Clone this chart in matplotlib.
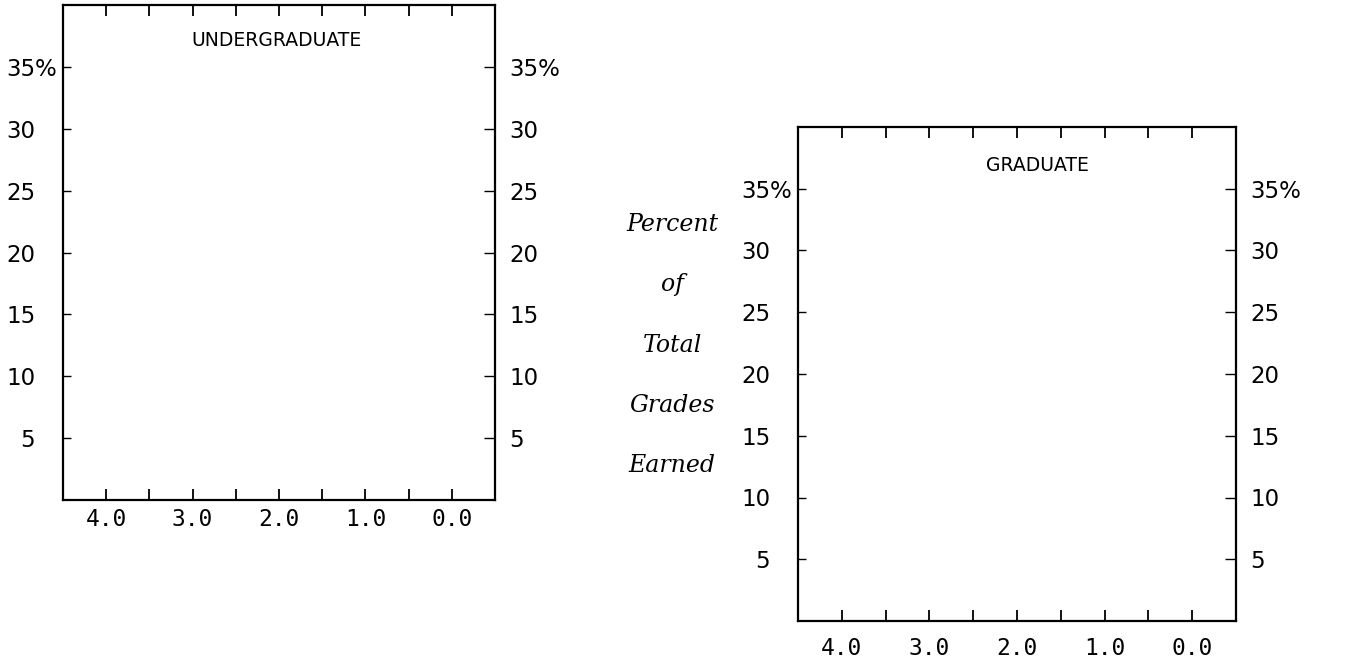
import matplotlib
matplotlib.use("Agg")
import matplotlib.pyplot as plt

# Data (tick categories)
grade_ticks = [4.0, 3.5, 3.0, 2.5, 2.0, 1.5, 1.0, 0.5, 0.0]
grade_labels = ["4.0", "", "3.0", "", "2.0", "", "1.0", "", "0.0"]
pct_ticks = [5, 10, 15, 20, 25, 30, 35]
pct_left_labels = ["5", "10", "15", "20", "25", "30", "35"]
pct_right_labels = ["5", "10", "15", "20", "25", "30", "35%"]
panel_titles = ["UNDERGRADUATE", "GRADUATE"]
ylabel_lines = ["Percent", "of", "Total", "Grades", "Earned"]

fig = plt.figure(figsize=(13.6, 6.62), dpi=100)

positions = [
    [63 / 1360, 1 - 500 / 662, (495 - 63) / 1360, 495 / 662],
    [798 / 1360, 1 - 621 / 662, (1236 - 798) / 1360, 494 / 662],
]
title_xy = [(0.495, 0.929), (0.546, 0.923)]
xpads = [6.0, 11.5]
FS = 16.5

for pos, title, txy, xpad in zip(positions, panel_titles, title_xy, xpads):
    ax = fig.add_axes(pos)
    ax.set_xlim(4.5, -0.5)
    ax.set_ylim(0, 40)
    for s in ax.spines.values():
        s.set_linewidth(1.6)
        s.set_color("black")
    ax.set_xticks(grade_ticks)
    ax.set_xticklabels(grade_labels, family="DejaVu Sans Mono", fontsize=FS)
    ax.tick_params(axis="x", direction="in", length=8, width=1.3, top=True,
                   bottom=True, pad=xpad)
    ax.set_yticks(pct_ticks)
    ax.set_yticklabels(pct_left_labels, family="DejaVu Sans", fontsize=FS)
    ax.tick_params(axis="y", direction="in", length=6, width=1.0, left=True,
                   right=True, pad=20)
    # right side labels
    ax2 = ax.twinx()
    ax2.set_ylim(ax.get_ylim())
    ax2.set_yticks(pct_ticks)
    ax2.set_yticklabels(pct_right_labels, family="DejaVu Sans", fontsize=FS)
    ax2.tick_params(axis="y", direction="in", length=8, width=1.0, pad=10.5)
    for s in ax2.spines.values():
        s.set_visible(False)
    # percent sign after the top left label
    ax.annotate("%", xy=(0, pct_ticks[-1]), xycoords=("axes fraction", "data"),
                xytext=(-28, 0), textcoords="offset pixels", ha="left",
                va="center_baseline", fontsize=FS, family="DejaVu Sans")
    ax.text(txy[0], txy[1], title, transform=ax.transAxes, ha="center",
            va="center", fontsize=13.5, family="DejaVu Sans")

for i, line in enumerate(ylabel_lines):
    fig.text(672 / 1360, 1 - (224 + i * 60.5) / 662, line, ha="center",
             va="center", fontsize=17, style="italic", family="DejaVu Serif")

fig.savefig("out.png", dpi=100)
